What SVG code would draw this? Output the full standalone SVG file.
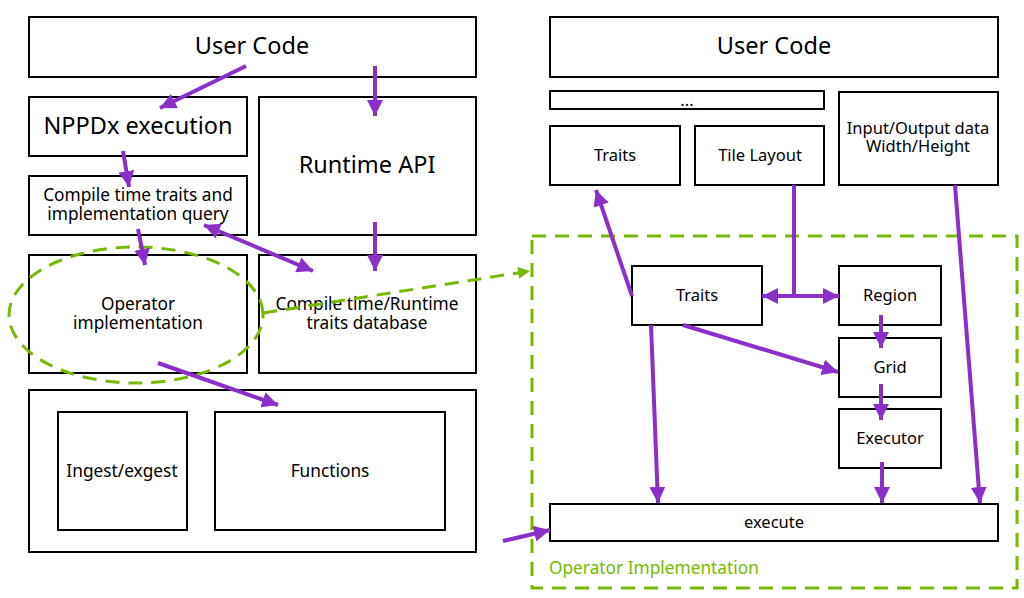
<svg xmlns="http://www.w3.org/2000/svg" width="1024" height="598" viewBox="0 0 1024 598">
<style>
.box{fill:#fff;stroke:#000;stroke-width:2}
.t{font-family:"Noto Sans","Liberation Sans",sans-serif;fill:#000;text-anchor:middle}
.xl{font-size:23.5px}
.m{font-size:17.3px}
.s{font-size:16.5px}
.c{fill:none;stroke:#8B2FC9;stroke-width:4}
.g{fill:none;stroke:#76B900;stroke-width:3;stroke-dasharray:14 9}
</style>
<defs>
<marker id="ah" markerUnits="userSpaceOnUse" markerWidth="16" markerHeight="16" refX="14" refY="7" orient="auto-start-reverse" viewBox="0 0 14 14">
<path d="M0,0 L14,7 L0,14 z" fill="#8B2FC9"/>
</marker>
<marker id="gh" markerUnits="userSpaceOnUse" markerWidth="12" markerHeight="12" refX="10" refY="5" orient="auto" viewBox="0 0 10 10">
<path d="M0,0 L10,5 L0,10 z" fill="#76B900"/>
</marker>
</defs>
<rect width="1024" height="598" fill="#fff"/>

<g id="l-user"><rect class="box" x="29" y="17" width="447" height="60"/><text class="t xl" x="252" y="54">User Code</text></g>
<g id="l-nppdx"><rect class="box" x="29" y="97" width="218" height="59"/><text class="t xl" x="138" y="134">NPPDx execution</text></g>
<g id="l-runtime"><rect class="box" x="259" y="97" width="217" height="138"/><text class="t xl" x="367" y="173">Runtime API</text></g>
<g id="l-ctq"><rect class="box" x="29" y="176" width="218" height="59"/><text class="t m" x="138" y="201">Compile time traits and</text><text class="t m" x="138" y="220">implementation query</text></g>
<g id="l-op"><rect class="box" x="29" y="255" width="218" height="118"/><text class="t m" x="138" y="310">Operator</text><text class="t m" x="138" y="329">implementation</text></g>
<g id="l-db"><rect class="box" x="259" y="255" width="217" height="118"/><text class="t m" x="367" y="310">Compile time/Runtime</text><text class="t m" x="367" y="329">traits database</text></g>
<g id="l-bottom"><rect class="box" x="29" y="390" width="447" height="162"/></g>
<g id="l-ingest"><rect class="box" x="58" y="412" width="129" height="118"/><text class="t m" x="122" y="477">Ingest/exgest</text></g>
<g id="l-func"><rect class="box" x="215" y="412" width="230" height="118"/><text class="t m" x="330" y="477">Functions</text></g>

<g id="r-user"><rect class="box" x="550" y="17" width="448" height="60"/><text class="t xl" x="774" y="54">User Code</text></g>
<g id="r-dots"><rect class="box" x="550" y="91" width="274" height="18"/><text class="t s" x="687" y="106">...</text></g>
<g id="r-traits-top"><rect class="box" x="550" y="126" width="130" height="59"/><text class="t s" x="615" y="161">Traits</text></g>
<g id="r-tile"><rect class="box" x="695" y="126" width="129" height="59"/><text class="t s" x="760" y="161">Tile Layout</text></g>
<g id="r-io"><rect class="box" x="839" y="92" width="159" height="93"/><text class="t s" x="918" y="134">Input/Output data</text><text class="t s" x="918" y="152">Width/Height</text></g>
<g id="r-opimpl"><rect x="532" y="236" width="485" height="352" fill="none" stroke="#76B900" stroke-width="3" stroke-dasharray="14 9"/><text x="549" y="574" font-family="Noto Sans, Liberation Sans, sans-serif" font-size="17.3" fill="#76B900">Operator Implementation</text></g>
<g id="r-traits"><rect class="box" x="632" y="266" width="130" height="59"/><text class="t s" x="697" y="301">Traits</text></g>
<g id="r-region"><rect class="box" x="839" y="266" width="102" height="59"/><text class="t s" x="890" y="301">Region</text></g>
<g id="r-grid"><rect class="box" x="839" y="338" width="102" height="59"/><text class="t s" x="890" y="373">Grid</text></g>
<g id="r-exec"><rect class="box" x="839" y="409" width="102" height="59"/><text class="t s" x="890" y="444">Executor</text></g>
<g id="r-execute"><rect class="box" x="550" y="504" width="448" height="37"/><text class="t s" x="774" y="528">execute</text></g>

<g id="highlight">
<path class="g" d="M263,313 A127,68 0 1 0 136,383 A127,68 0 0 0 263,313"/>
<path class="g" d="M263,313 L530,271" marker-end="url(#gh)"/>
</g>

<g id="connectors">
<line class="c" x1="246" y1="66" x2="160" y2="108" marker-end="url(#ah)"/>
<line class="c" x1="375" y1="66" x2="375" y2="116" marker-end="url(#ah)"/>
<line class="c" x1="123" y1="151" x2="129" y2="187" marker-end="url(#ah)"/>
<line class="c" x1="138" y1="229" x2="145" y2="265" marker-end="url(#ah)"/>
<line class="c" x1="204" y1="225" x2="313" y2="271" marker-start="url(#ah)" marker-end="url(#ah)"/>
<line class="c" x1="375" y1="222" x2="375" y2="271" marker-end="url(#ah)"/>
<line class="c" x1="158" y1="363" x2="278" y2="405" marker-end="url(#ah)"/>

<line class="c" x1="632" y1="296" x2="596" y2="190" marker-end="url(#ah)"/>
<line class="c" x1="794" y1="185" x2="794" y2="296"/>
<line class="c" x1="762" y1="296" x2="839" y2="296" marker-start="url(#ah)" marker-end="url(#ah)"/>
<line class="c" x1="955" y1="185" x2="980" y2="503" marker-end="url(#ah)"/>
<line class="c" x1="651" y1="325" x2="658" y2="503" marker-end="url(#ah)"/>
<line class="c" x1="683" y1="325" x2="838" y2="372" marker-end="url(#ah)"/>
<line class="c" x1="881" y1="315" x2="881" y2="348" marker-end="url(#ah)"/>
<line class="c" x1="881" y1="384" x2="881" y2="420" marker-end="url(#ah)"/>
<line class="c" x1="882" y1="462" x2="882" y2="503" marker-end="url(#ah)"/>
<line class="c" x1="503" y1="541" x2="550" y2="530" marker-end="url(#ah)"/>
</g>
</svg>
